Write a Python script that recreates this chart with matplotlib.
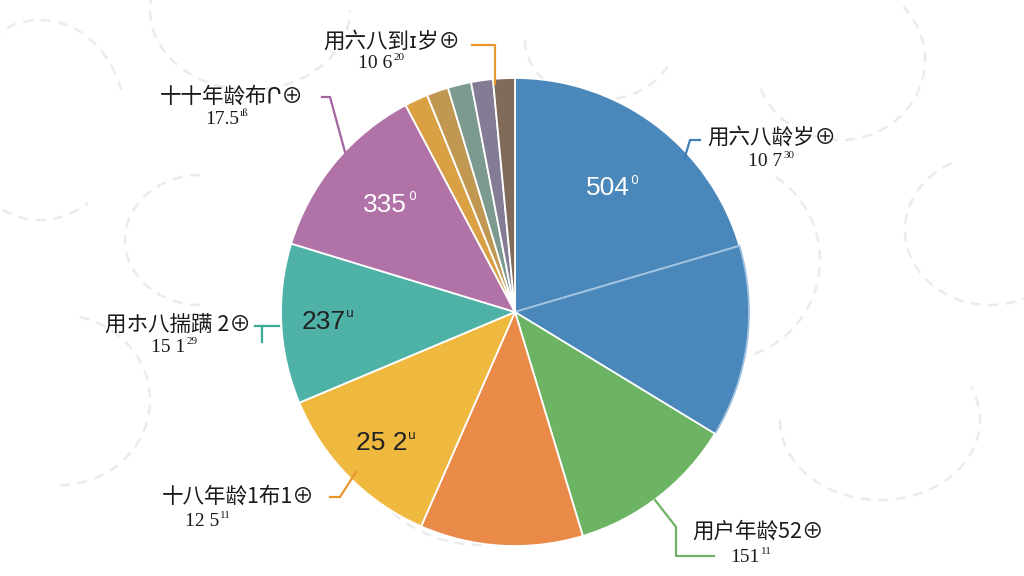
import matplotlib
matplotlib.use("Agg")
import matplotlib.pyplot as plt
import numpy as np
from matplotlib.patches import Arc

plt.rcParams['font.family'] = ['Noto Sans CJK SC', 'DejaVu Sans']

# slice data (clockwise from 12 o'clock)
slice_values = [73.4, 47.6, 41.7, 40.4, 43.4, 39.7, 45.0, 5.8, 5.4, 5.8, 5.4, 5.4]
slice_colors = ['#4a87ba', '#4a87ba', '#6cb463', '#e98a48', '#efb83f', '#4fb2a6',
                '#b172a8', '#d9a144', '#c09852', '#7c9a90', '#847c94', '#806a5a']
inner_labels = {0: ('504', '0', 'white'), 6: ('335', '0', 'white'),
                5: ('237', 'u', '#222222'), 4: ('25 2', 'u', '#222222')}
inner_radius = {0: 0.66, 6: 0.72, 5: 0.82, 4: 0.80}

outer_labels = ['用六八到ɪ岁⊕', '十十年龄布Ր⊕', '用六八龄岁⊕',
                '用ホ八揣蹒 2⊕', '十八年龄1布1⊕', '用户年龄52⊕']
outer_values = ['10 6', '17.5', '10 7', '15 1', '12 5', '151']
outer_sups = ['20', 'ıß', '30', '29', '11', '11']
outer_colors = ['#e8962e', '#a462a0', '#3f7fb5', '#3aa99a', '#e8962e', '#6cb463']

H = 576
cx, cy, R = 515, H - 312, 234

fig = plt.figure(figsize=(10.24, 5.76), dpi=100)
ax = fig.add_axes([0, 0, 1, 1])
ax.set_xlim(0, 1024)
ax.set_ylim(0, H)
ax.set_aspect('equal')
renderer = fig.canvas.get_renderer()


def sup_after(t, sup, dy, size, family, col):
    # put a small superscript right after a text
    bb = t.get_window_extent(renderer=renderer)
    x1, _ = ax.transData.inverted().transform((bb.x1, bb.y1))
    x, y = t.get_position()
    ax.text(x1 + 1, y + dy, sup, fontsize=size, ha='left', va='center',
            color=col, family=family, zorder=6)


# faint decorative dashed arcs in the background
bg_arcs = [(40, 120, 170, 200, 20, 300), (250, 10, 200, 160, 150, 360),
           (600, 40, 150, 120, 180, 340), (840, 60, 170, 160, 200, 40),
           (990, 230, 170, 150, 120, 300), (60, 400, 180, 170, 270, 80),
           (200, 240, 150, 130, 90, 270), (880, 420, 200, 160, 180, 20),
           (480, 420, 260, 250, 180, 300), (720, 260, 200, 200, 270, 60)]
for (x, y, w, h, t1, t2) in bg_arcs:
    ax.add_patch(Arc((x, H - y), w, h, theta1=t1, theta2=t2, color='#d4d4d4',
                     lw=1.8, ls=(0, (4, 3)), alpha=0.45, zorder=0))

wedges, _ = ax.pie(slice_values, colors=slice_colors, startangle=90, counterclock=False,
                   center=(cx, cy), radius=R,
                   wedgeprops=dict(edgecolor='white', linewidth=1.3))
for w in wedges:
    w.set_zorder(2)
# softer divider inside the blue block
wedges[1].set_edgecolor('#9cc0e0')

ax.set_xlim(0, 1024)
ax.set_ylim(0, H)
ax.set_aspect('equal')
ax.axis('off')

# inner value labels
for i, (txt, sup, col) in inner_labels.items():
    w = wedges[i]
    a = np.deg2rad((w.theta1 + w.theta2) / 2)
    r = inner_radius[i] * R
    x, y = cx + r * np.cos(a), cy + r * np.sin(a)
    t = ax.text(x, y, txt, color=col, fontsize=19, ha='center', va='center',
                family='Liberation Sans', zorder=5)
    sup_after(t, sup, 8, 9, 'DejaVu Sans', col)

# outer label positions (label centre, value centre) and leader lines
label_pos = [(392, 42), (232, 97), (772, 138), (178, 325), (238, 497), (758, 532)]
value_pos = [(375, 64), (222, 120), (765, 161), (168, 348), (202, 522), (745, 557)]
leaders = [[(472, 45), (495, 45), (495, 84)],
           [(322, 97), (330, 97), (345, 152)],
           [(700, 140), (690, 140), (684, 160)],
           [(255, 326), (279, 326)],
           [(330, 497), (340, 497), (356, 472)],
           [(655, 500), (676, 527), (676, 556), (714, 556)]]

for k in range(len(outer_labels)):
    lx, ly = label_pos[k]
    ax.text(lx, H - ly, outer_labels[k], fontsize=15.5, ha='center', va='center',
            color='#1a1a1a', zorder=6)
    vx, vy = value_pos[k]
    t = ax.text(vx, H - vy, outer_values[k], fontsize=14, ha='center', va='center',
                color='#1a1a1a', family='Liberation Serif', zorder=6)
    sup_after(t, outer_sups[k], 6, 8, 'Liberation Serif', '#1a1a1a')
    pts = np.array([(px, H - py) for px, py in leaders[k]])
    ax.plot(pts[:, 0], pts[:, 1], color=outer_colors[k], lw=1.6, zorder=4)
ax.plot([262, 262], [H - 326, H - 342], color=outer_colors[3], lw=1.6, zorder=4)

fig.savefig('out.png', dpi=100, facecolor='white')
